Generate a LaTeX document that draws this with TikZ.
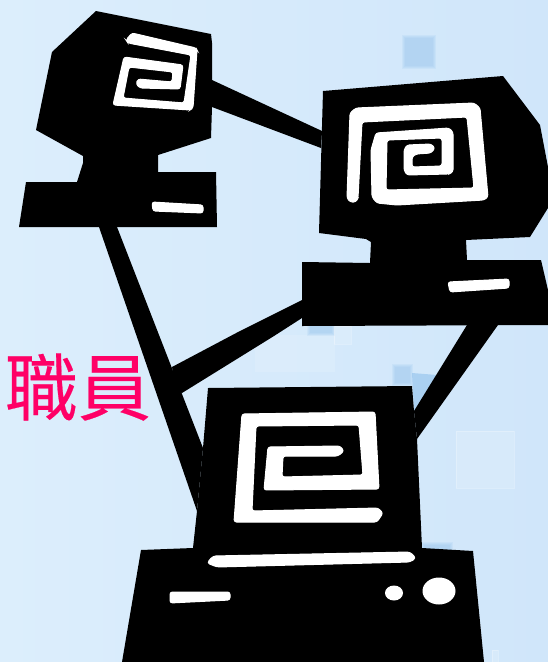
\documentclass[tikz,border=0pt]{standalone}
\usepackage{fontspec}
\newfontfamily\cjkfont[FakeBold=0.3]{Noto Sans CJK TC}
\definecolor{skyleft}{HTML}{DCEEFC}
\definecolor{skyright}{HTML}{D0E6FA}
\definecolor{tile}{HTML}{8FC0EC}
\definecolor{label}{HTML}{FF0066}
\tikzset{
  ink/.style={fill=black},
  spiral/.style={fill=white, draw=white, line width=1pt, rounded corners=2.5pt},
  softtile/.style={fill=tile, opacity=0.14},
  palebox/.style={draw=white, draw opacity=0.25, fill=white, fill opacity=0.14, line width=1pt}
}
\begin{document}
\begin{tikzpicture}[x=1pt,y=-1pt]
      \useasboundingbox (0,0) rectangle (548,662);

      % BACKDROP
      \shade[left color=skyleft, right color=skyright] (0,0) rectangle (548,662);
      \fill[white, opacity=0.14] (255,335) rectangle (335,372);
      % soft blue tiles
      \foreach \g in {0,1,2,3} {
        \fill[softtile] (405-\g,38-\g) rectangle (433+\g,66+\g);
        \fill[softtile] (395-\g,367-\g) rectangle (410+\g,383+\g);
        \fill[softtile] (310-\g,326) rectangle (332+\g,333+\g);
        \fill[softtile] (424-\g,545-\g) rectangle (450+\g,552);
      }
      \fill[tile, opacity=0.6] (412,373) -- (437,375) -- (414,411) -- cycle;
      \draw[palebox] (456,431) rectangle (514,488);
      \draw[palebox] (334,326) rectangle (351,344);
      \draw[palebox] (492,650) rectangle (498,662);

      % LABEL
      \node[text=label, font=\cjkfont\fontsize{73}{73}\selectfont, inner sep=0pt, anchor=center] (staff) at (78,387) {職員};

      % WIRES
      \fill[ink] (212,80) -- (322,131) -- (321,148) -- (212,107) -- cycle;
      \fill[ink] (99,227) -- (117,227) -- (203,448) -- (197,511) -- cycle;
      \fill[ink] (172,367) -- (240,331) -- (302,300) -- (302,318) -- (274,336) -- (182,393) -- (176,390) -- cycle;
      \fill[ink] (467,325) -- (498,325) -- (417,439) -- (414,411) -- cycle;

      % LEFT COMPUTER
      \fill[ink] (96,11) -- (211,34) -- (212,43) -- (212,107) -- (211,138) -- (158,155)
        -- (158,172) -- (216,172) -- (217,227) -- (19,227) -- (26,182) -- (77,182)
        -- (83,163) -- (83,156) -- (36,130) -- (52,52) -- cycle;
      \filldraw[spiral] (126,40) -- (132,33) -- (196,48) -- (197,50) -- (193,108) -- (190,110)
        -- (113,105) -- (124,57) -- (183,65) -- (180,89) -- (140,88) -- (136,84) -- (138,79)
        -- (172,82) -- (173,72) -- (129,67) -- (123,98) -- (184,103) -- (191,55) -- (128,43) -- cycle;
      \filldraw[spiral] (152,202) -- (203,205) -- (203,213) -- (153,211) -- cycle;

      % RIGHT COMPUTER
      \fill[ink] (323,91) -- (503,76) -- (540,125) -- (548,167) -- (548,208) -- (530,237)
        -- (466,240) -- (467,260) -- (541,260) -- (548,290) -- (548,325) -- (302,326)
        -- (302,262) -- (370,263) -- (371,242) -- (366,239) -- (319,233) -- cycle;
      \filldraw[spiral] (347,198) -- (350,113) -- (356,108) -- (474,103) -- (480,108) -- (488,197)
        -- (484,200) -- (397,205) -- (377,203) -- (372,197) -- (371,150) -- (376,133)
        -- (449,128) -- (453,132) -- (453,172) -- (449,174) -- (407,175) -- (404,170)
        -- (404,150) -- (407,145) -- (431,144) -- (435,148) -- (431,153) -- (416,154)
        -- (412,157) -- (412,167) -- (442,166) -- (442,138) -- (387,140) -- (386,190)
        -- (474,188) -- (467,117) -- (362,122) -- (358,198) -- (356,202) -- (350,202) -- cycle;
      \filldraw[spiral] (448,282) -- (509,279) -- (509,288) -- (450,292) -- cycle;

      % BOTTOM COMPUTER
      \fill[ink] (208,388) -- (412,386) -- (414,411) -- (417,439) -- (422,548) -- (473,551)
        -- (484,662) -- (122,662) -- (141,550) -- (193,548) -- (197,511) -- (203,448) -- cycle;
      \filldraw[spiral] (383,513) -- (378,508) -- (252,511) -- (256,426) -- (359,425) -- (363,475)
        -- (282,477) -- (283,456) -- (338,456) -- (344,451) -- (340,446) -- (268,447)
        -- (264,490) -- (379,489) -- (375,412) -- (242,414) -- (234,522) -- (377,522) -- cycle;
      \filldraw[spiral, rounded corners=3pt] (207,563) -- (213,556) -- (410,552) -- (416,558) -- (410,562) -- (217,567) -- cycle;
      \filldraw[spiral] (170,592) -- (230,592) -- (230,600) -- (170,603) -- cycle;
      \fill[white] (394,593) ellipse [x radius=9, y radius=7.5];
      \fill[white] (439,591) ellipse [x radius=16.5, y radius=13.5];
\end{tikzpicture}
\end{document}
